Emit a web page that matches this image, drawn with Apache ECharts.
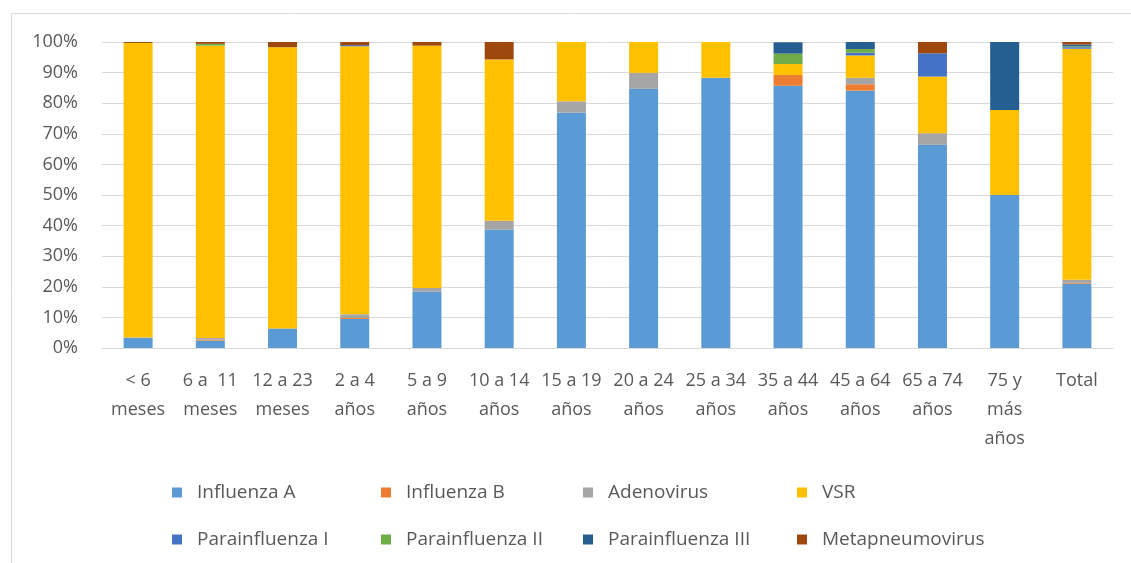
<!DOCTYPE html>
<html>
<head>
<meta charset="utf-8">
<script src="https://cdn.jsdelivr.net/npm/echarts@6/dist/echarts.min.js"></script>
<style>html,body{margin:0;padding:0;background:#fff;}#c{width:1131px;height:563px;}</style>
</head>
<body>
<div id="c"></div>
<script>
var categories = ["< 6\nmeses", "6 a  11\nmeses", "12 a 23\nmeses", "2 a 4\naños", "5 a 9\naños", "10 a 14\naños", "15 a 19\naños", "20 a 24\naños", "25 a 34\naños", "35 a 44\naños", "45 a 64\naños", "65 a 74\naños", "75 y\nmás\naños", "Total"];
var yTicks = [0, 10, 20, 30, 40, 50, 60, 70, 80, 90, 100];
var influenzaA      = [3.4, 2.4, 6.4, 9.5, 18.4, 38.7, 76.9, 84.7, 88.3, 85.7, 84.1, 66.4, 50.0, 21.0];
var influenzaB      = [0,   0.3, 0,   0.3, 0,    0,    0,    0,    0,    3.5,  2.1,  0,    0,    0.3];
var adenovirus      = [0,   0.6, 0,   1.2, 1.2,  2.9,  3.7,  5.2,  0,    0,    2.1,  3.8,  0,    1.0];
var vsr             = [96.3,95.5,91.9,87.6,79.2, 52.7, 19.4, 10.1, 11.7, 3.6,  7.3,  18.5, 27.8, 75.5];
var parainfluenza1  = [0,   0,   0,   0.4, 0,    0,    0,    0,    0,    0,    0.9,  7.6,  0,    0.5];
var parainfluenza2  = [0,   0.6, 0,   0,   0,    0,    0,    0,    0,    3.4,  1.2,  0,    0,    0.3];
var parainfluenza3  = [0,   0,   0,   0,   0,    0,    0,    0,    0,    3.7,  2.3,  0,    22.2, 0.6];
var metapneumovirus = [0.3, 0.6, 1.7, 1.0, 1.2,  5.7,  0,    0,    0,    0,    0,    3.7,  0,    0.8];

var seriesDefs = [
  ["Influenza A", influenzaA, "#5B9BD5"],
  ["Influenza B", influenzaB, "#ED7D31"],
  ["Adenovirus", adenovirus, "#A5A5A5"],
  ["VSR", vsr, "#FFC000"],
  ["Parainfluenza I", parainfluenza1, "#4472C4"],
  ["Parainfluenza II", parainfluenza2, "#70AD47"],
  ["Parainfluenza III", parainfluenza3, "#255E91"],
  ["Metapneumovirus", metapneumovirus, "#9E480E"]
];

var FONT = '"Open Sans", "Liberation Sans", Arial, sans-serif';
var chart = echarts.init(document.getElementById('c'));
var txt = {color: '#595959', fontSize: 18, fontFamily: FONT};
function legendCol(left, names) {
  return {
    orient: 'vertical', left: left, top: 478, itemGap: 28,
    itemWidth: 10, itemHeight: 10, icon: 'rect',
    textStyle: {color: '#595959', fontSize: 19, fontFamily: FONT, padding: [0, 0, 0, 10]},
    data: names
  };
}
var option = {
  animation: false,
  backgroundColor: '#fff',
  graphic: [{type: 'rect', shape: {x: 11.5, y: 13.5, width: 1200, height: 700}, style: {fill: 'none', stroke: '#d9d9d9', lineWidth: 1}, silent: true}],
  legend: [
    legendCol(167, ["Influenza A", "Parainfluenza I"]),
    legendCol(376, ["Influenza B", "Parainfluenza II"]),
    legendCol(578, ["Adenovirus", "Parainfluenza III"]),
    legendCol(792, ["VSR", "Metapneumovirus"])
  ],
  grid: {left: 102, right: 18, top: 42, bottom: 215, containLabel: false},
  xAxis: {
    type: 'category', data: categories,
    axisLine: {show: true, lineStyle: {color: '#d9d9d9'}},
    axisTick: {show: false},
    axisLabel: Object.assign({interval: 0, margin: 18, lineHeight: 29}, txt)
  },
  yAxis: {
    type: 'value', min: 0, max: 100, interval: 10,
    axisLine: {show: false}, axisTick: {show: false},
    splitLine: {lineStyle: {color: '#d9d9d9', width: 1}},
    axisLabel: Object.assign({margin: 24, formatter: function (v) { return yTicks.indexOf(v) >= 0 ? v + '%' : ''; }}, txt)
  },
  series: seriesDefs.map(function (d) {
    return {name: d[0], type: 'bar', stack: 'total', data: d[1], barWidth: 29,
      itemStyle: {color: d[2]}, emphasis: {disabled: true}};
  })
};
chart.setOption(option);
</script>
</body>
</html>
